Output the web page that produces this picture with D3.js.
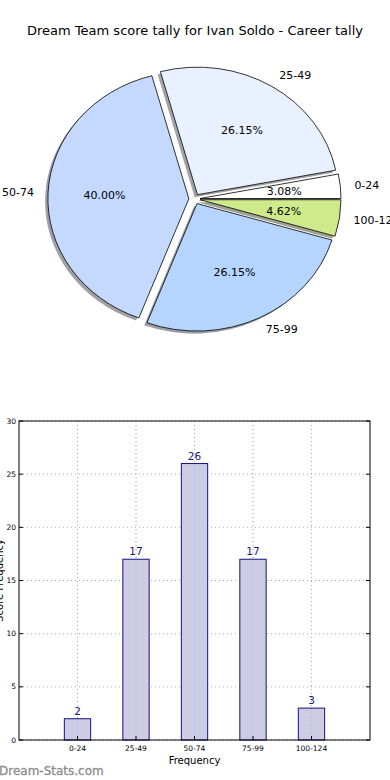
<!DOCTYPE html>
<html><head><meta charset="utf-8">
<script src="https://cdn.jsdelivr.net/npm/d3@7"></script>
<style>body{margin:0;background:#fff}svg{display:block;font-family:"DejaVu Sans",sans-serif}</style>
</head><body>
<svg id="c" width="390" height="780"></svg>
<script>
const categories = ["0-24","25-49","50-74","75-99","100-124"];
const counts = [2,17,26,17,3];
const pieColors = ["#ffffff","#e9f1ff","#c5d9ff","#b5d5ff","#cfea8a"];
const yTicks = [0,5,10,15,20,25,30];
const title = "Dream Team score tally for Ivan Soldo - Career tally";

const svg = d3.select("#c");
svg.append("text").attr("x",195).attr("y",35).attr("text-anchor","middle")
  .attr("font-size",13).attr("fill","#000").text(title);

// ---- Pie (matplotlib-like: CCW from +x, exploded, elliptical) ----
const cx = 194.5, cy = 199, rx = 140.9, ry = 127.5, ex = 0.04;
const total = d3.sum(counts);
const pie = d3.pie().sort(null).value(d=>d);
const arcs = pie(counts);
const arcGen = d3.arc().innerRadius(0).outerRadius(1);
const pg = svg.append("g").attr("transform",`translate(${cx},${cy}) scale(${rx},${ry})`);
const shade = c => { const r=d3.rgb(c); return d3.rgb(r.r*0.3,r.g*0.3,r.b*0.3).toString(); };
const parts = arcs.map((a,i)=>{
  const m = (a.startAngle+a.endAngle)/2;
  return {a, i, m, dx: ex*Math.cos(m), dy: -ex*Math.sin(m),
    d: arcGen({startAngle: Math.PI/2 - a.startAngle, endAngle: Math.PI/2 - a.endAngle})};
});
parts.forEach(p=>{
  pg.append("path").attr("d",p.d)
    .attr("transform",`translate(${p.dx-0.02},${p.dy+0.02})`)
    .attr("fill",shade(pieColors[p.i])).attr("fill-opacity",0.5).attr("stroke","none");
});
parts.forEach(p=>{
  pg.append("path").attr("d",p.d)
    .attr("transform",`translate(${p.dx},${p.dy})`)
    .attr("fill",pieColors[p.i]).attr("stroke","#000").attr("stroke-width",0.8)
    .attr("vector-effect","non-scaling-stroke");
});
parts.forEach(p=>{
  const bx = cx + p.dx*rx, by = cy + p.dy*ry;
  const lx = bx + 1.1*rx*Math.cos(p.m), ly = by - 1.1*ry*Math.sin(p.m);
  svg.append("text").attr("x",lx).attr("y",ly).attr("dy","0.35em")
    .attr("text-anchor", Math.cos(p.m)>0 ? "start":"end")
    .attr("font-size",11).text(categories[p.i]);
  const tx = bx + 0.6*rx*Math.cos(p.m), ty = by - 0.6*ry*Math.sin(p.m);
  svg.append("text").attr("x",tx).attr("y",ty).attr("dy","0.35em")
    .attr("text-anchor","middle").attr("font-size",11)
    .text((100*counts[p.i]/total).toFixed(2)+"%");
});

// ---- Bar chart ----
const L=19, R=370, T=421, B=740;
const x = d3.scaleLinear().domain([-1,5]).range([L,R]);
const y = d3.scaleLinear().domain([0,30]).range([B,T]);
const g = svg.append("g");
g.selectAll(".gy").data(yTicks).join("line")
  .attr("x1",L).attr("x2",R).attr("y1",d=>y(d)).attr("y2",d=>y(d))
  .attr("stroke","#b0b0b0").attr("stroke-dasharray","1,3").attr("stroke-width",1);
g.selectAll(".gx").data(categories).join("line")
  .attr("x1",(d,i)=>x(i)).attr("x2",(d,i)=>x(i)).attr("y1",T).attr("y2",B)
  .attr("stroke","#b0b0b0").attr("stroke-dasharray","1,3").attr("stroke-width",1);
const bw = 0.45;
g.selectAll(".bar").data(counts).join("rect")
  .attr("x",(d,i)=>x(i-bw/2)).attr("width",x(bw)-x(0))
  .attr("y",d=>y(d)).attr("height",d=>B-y(d))
  .attr("fill","#ccccE5").attr("stroke","#14147a").attr("stroke-width",1);
g.selectAll(".gx2").data(categories).join("line")
  .attr("x1",(d,i)=>x(i)).attr("x2",(d,i)=>x(i)).attr("y1",T).attr("y2",B)
  .attr("stroke","#a8a8b8").attr("stroke-dasharray","1,3").attr("stroke-opacity",0.7);
g.selectAll(".val").data(counts).join("text")
  .attr("x",(d,i)=>x(i)).attr("y",d=>y(d)-4).attr("text-anchor","middle")
  .attr("font-size",10.5).attr("fill","#191970").text(d=>d);
g.append("rect").attr("x",L).attr("y",T).attr("width",R-L).attr("height",B-T)
  .attr("fill","none").attr("stroke","#000").attr("stroke-width",1);
g.selectAll(".yt").data(yTicks).join("text")
  .attr("x",L-3).attr("y",d=>y(d)).attr("dy","0.35em").attr("text-anchor","end")
  .attr("font-size",7.5).text(d=>d);
g.selectAll(".ytm").data(yTicks).join("line")
  .attr("x1",L).attr("x2",L+4).attr("y1",d=>y(d)).attr("y2",d=>y(d)).attr("stroke","#000");
g.selectAll(".ytm2").data(yTicks).join("line")
  .attr("x1",R).attr("x2",R-4).attr("y1",d=>y(d)).attr("y2",d=>y(d)).attr("stroke","#000");
g.selectAll(".xt").data(categories).join("text")
  .attr("x",(d,i)=>x(i)).attr("y",B+11).attr("text-anchor","middle")
  .attr("font-size",7.5).text(d=>d);
g.selectAll(".xtm").data(categories).join("line")
  .attr("x1",(d,i)=>x(i)).attr("x2",(d,i)=>x(i)).attr("y1",B).attr("y2",B-4).attr("stroke","#000");
svg.append("text").attr("x",194.5).attr("y",764).attr("text-anchor","middle")
  .attr("font-size",10).text("Frequency");
svg.append("text").attr("transform",`translate(3,${(T+B)/2}) rotate(-90)`)
  .attr("text-anchor","middle").attr("font-size",10).text("Score Frequency");
svg.append("text").attr("x",-1).attr("y",775).attr("font-size",12)
  .attr("fill","#8c8c8c").attr("stroke","#8c8c8c").attr("stroke-width",0.3).text("Dream-Stats.com");
</script>
</body></html>
